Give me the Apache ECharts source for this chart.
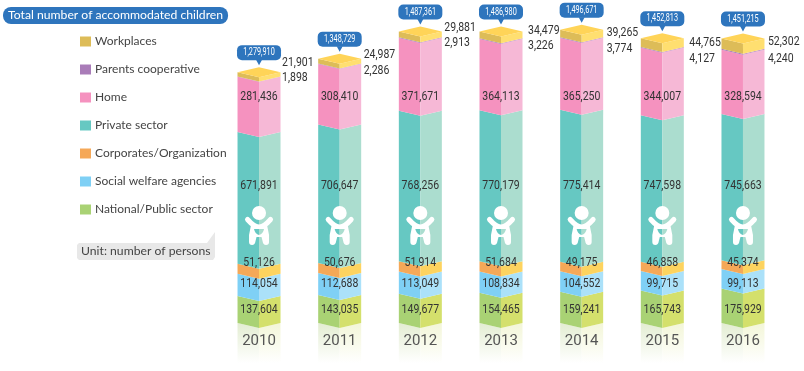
<!DOCTYPE html>
<html><head><meta charset="utf-8">
<style>html,body{margin:0;padding:0;background:#fff}#c{width:804px;height:371px}</style>
<script src="https://cdn.jsdelivr.net/npm/echarts@6/dist/echarts.min.js"></script>
</head><body><div id="c"></div>
<script>
const years = ['2010','2011','2012','2013','2014','2015','2016'];
const nationalPublic = [137604,143035,149677,154465,159241,165743,175929];
const socialWelfare = [114054,112688,113049,108834,104552,99715,99113];
const corporates = [51126,50676,51914,51684,49175,46858,45374];
const privateSector = [671891,706647,768256,770179,775414,747598,745663];
const home = [281436,308410,371671,364113,365250,344007,328594];
const parentsCoop = [1898,2286,2913,3226,3774,4127,4240];
const workplaces = [21901,24987,29881,34479,39265,44765,52302];
const totals = [1279910,1348729,1487361,1486980,1496671,1452813,1451215];

// Label placement (pixels), kept apart from the values
const rowLabelY = {nat:310, soc:284, cor:263, pri:186, hom:97};
const sideLabelDx = [23,24,24,27,25,27,25];
const workLabelY = [62.7,54.7,28,30.7,32.7,42.7,42.3];
const parLabelY = [77.7,70.7,43.3,46,49,59,59];

const W = 21.5, D = 5;
const numFont = 'Roboto,sans-serif';
const uiFont = 'Lato,"Noto Sans",sans-serif';
const fmt = v => v.toLocaleString('en-US');

const defs = [
  {name:'National/Public sector', vals:nationalPublic, l:'#A9D274', r:'#D4E06C', y:rowLabelY.nat},
  {name:'Social welfare agencies', vals:socialWelfare, l:'#7FD0F5', r:'#ABE1F9', y:rowLabelY.soc},
  {name:'Corporates/Organization', vals:corporates, l:'#F5A858', r:'#FDD35F', y:rowLabelY.cor},
  {name:'Private sector', vals:privateSector, l:'#66C8C2', r:'#ABDDCF', y:rowLabelY.pri},
  {name:'Home', vals:home, l:'#F592BF', r:'#F6B8D6', y:rowLabelY.hom},
  {name:'Parents cooperative', vals:parentsCoop, l:'#A97CB8', r:'#C898C8', side:parLabelY},
  {name:'Workplaces', vals:workplaces, l:'#DDBC58', r:'#FFDF70', side:workLabelY, top:'#FFD458'}
];

const cum = years.map(()=>0);
const series = [];

// reflection under each column
series.push({type:'custom', name:'reflection', silent:true, z:1, coordinateSystem:'cartesian2d',
  data: years.map((y,i)=>[i,0]),
  renderItem(p,api){
    const c = api.coord([api.value(0),0]), x=c[0], y=c[1];
    const g=(a)=>({type:'linear',x:0,y:0,x2:0,y2:1,colorStops:[{offset:0,color:a},{offset:1,color:'#ffffff'}]});
    return {type:'group',children:[
      {type:'polygon',shape:{points:[[x-W,y],[x,y+D],[x,y+40],[x-W,y+40]]},style:{fill:g('#E3EDD2')}},
      {type:'polygon',shape:{points:[[x,y+D],[x+W,y],[x+W,y+40],[x,y+40]]},style:{fill:g('#F3F6D8')}}
    ]};
  }});

defs.forEach(d=>{
  const data = d.vals.map((v,i)=>{const s=cum[i]; cum[i]+=v; return [i,s,cum[i],v];});
  series.push({type:'custom', name:d.name, z:2, coordinateSystem:'cartesian2d',
    itemStyle:{color:d.l}, encode:{x:0,y:2}, data,
    renderItem(p,api){
      const i=api.value(0);
      const a=api.coord([i,api.value(1)]), b=api.coord([i,api.value(2)]);
      const x=a[0], y0=a[1], y1=b[1];
      const ch=[
        {type:'polygon',shape:{points:[[x-W,y1],[x,y1+D],[x,y0+D],[x-W,y0]]},style:{fill:d.l}},
        {type:'polygon',shape:{points:[[x,y1+D],[x+W,y1],[x+W,y0],[x,y0+D]]},style:{fill:d.r}}
      ];
      if(d.top) ch.push({type:'polygon',shape:{points:[[x-W,y1],[x,y1-D],[x+W,y1],[x,y1+D]]},style:{fill:d.top}});
      const txt = fmt(api.value(3));
      if(d.side){
        ch.push({type:'text',z2:5,x:x+sideLabelDx[i],y:d.side[i],scaleX:0.84,style:{text:txt,x:0,y:0,align:'left',verticalAlign:'middle',font:'12.5px '+numFont,fill:'#333'}});
      }else{
        ch.push({type:'text',z2:5,x:x,y:d.y,scaleX:0.84,style:{text:txt,x:0,y:0,align:'center',verticalAlign:'middle',font:'12.5px '+numFont,fill:'#333'}});
      }
      return {type:'group',children:ch};
    }});
});

// baby icon
series.push({type:'custom', name:'icon', silent:true, z:3, coordinateSystem:'cartesian2d',
  data: years.map((y,i)=>[i,0]),
  renderItem(p,api){
    const x=api.coord([api.value(0),0])[0], oy=213;
    const pri=defs[3];
    return {type:'group',x:x,y:oy,children:[
      {type:'circle',shape:{cx:0,cy:0,r:7},style:{fill:'#fff'}},
      {type:'path',shape:{pathData:'M-11.5,6.5 Q-5,14 0,14 Q5,14 11.5,6.5'},style:{fill:'none',stroke:'#fff',lineWidth:5,lineCap:'round'}},
      {type:'path',shape:{pathData:'M-8,12 L8,12 L10,22 L10,29 Q10,32 7,32 Q4,32 3.5,28 L2.5,24 L-2.5,24 L-3.5,28 Q-4,32 -7,32 Q-10,32 -10,29 L-10,22 Z'},style:{fill:'#fff'}},
      {type:'path',shape:{pathData:'M-5,16 L0,16 L0,22 Q-4,21 -5,16 Z'},style:{fill:pri.l}},
      {type:'path',shape:{pathData:'M0,16 L5,16 Q4,21 0,22 Z'},style:{fill:pri.r}}
    ]};
  }});

// total callouts
series.push({type:'custom', name:'total', silent:true, z:4, coordinateSystem:'cartesian2d',
  data: totals.map((t,i)=>[i,t]),
  renderItem(p,api){
    const c=api.coord([api.value(0),api.value(1)]), x=c[0], y=c[1];
    const tip=y-7, b=tip-5, t=b-15;
    return {type:'group',children:[
      {type:'rect',shape:{x:x-22,y:t,width:44,height:15,r:5},style:{fill:'#2E75BD'}},
      {type:'polygon',shape:{points:[[x-3,b-0.5],[x+3,b-0.5],[x,tip]]},style:{fill:'#2E75BD'}},
      {type:'text',x:x,y:t+7.5,scaleX:0.66,style:{text:fmt(api.value(1)),x:0,y:0,align:'center',verticalAlign:'middle',font:'11px '+numFont,fill:'#fff'}}
    ]};
  }});

const chart = echarts.init(document.getElementById('c'),null,{renderer:'canvas'});
chart.setOption({
  animation:false,
  backgroundColor:'#fff',
  title:{text:'Total number of accommodated children',left:3,top:7,padding:[1,5,2,5],backgroundColor:'#2E75BD',borderRadius:8,
    textStyle:{color:'#fff',fontFamily:uiFont,fontSize:12.2,fontWeight:'normal',lineHeight:14}},
  legend:{orient:'vertical',left:75,top:27.5,itemWidth:11,itemHeight:10,itemGap:10,selectedMode:false,icon:'rect',
    data:defs.slice().reverse().map(d=>d.name),
    textStyle:{fontFamily:uiFont,fontSize:12,color:'#444',padding:[0,0,0,-1],lineHeight:18}},
  grid:{left:218.7,right:20.7,top:9.4,bottom:48},
  xAxis:{type:'category',data:years,z:10,axisLine:{show:false},axisTick:{show:false},
    axisLabel:{margin:11,fontFamily:numFont,fontSize:15,color:'#555'}},
  yAxis:{type:'value',min:0,max:1600000,show:false,splitLine:{show:false}},
  graphic:[
    {type:'polygon',shape:{points:[[79,243],[207,243],[215,232],[215,257],[213,260],[79,260],[77,258],[77,245]]},style:{fill:'#E8E8E8'}},
    {type:'text',style:{text:'Unit: number of persons',x:81,y:251,verticalAlign:'middle',font:'12.2px '+uiFont,fill:'#444'}}
  ],
  series
});
</script></body></html>
